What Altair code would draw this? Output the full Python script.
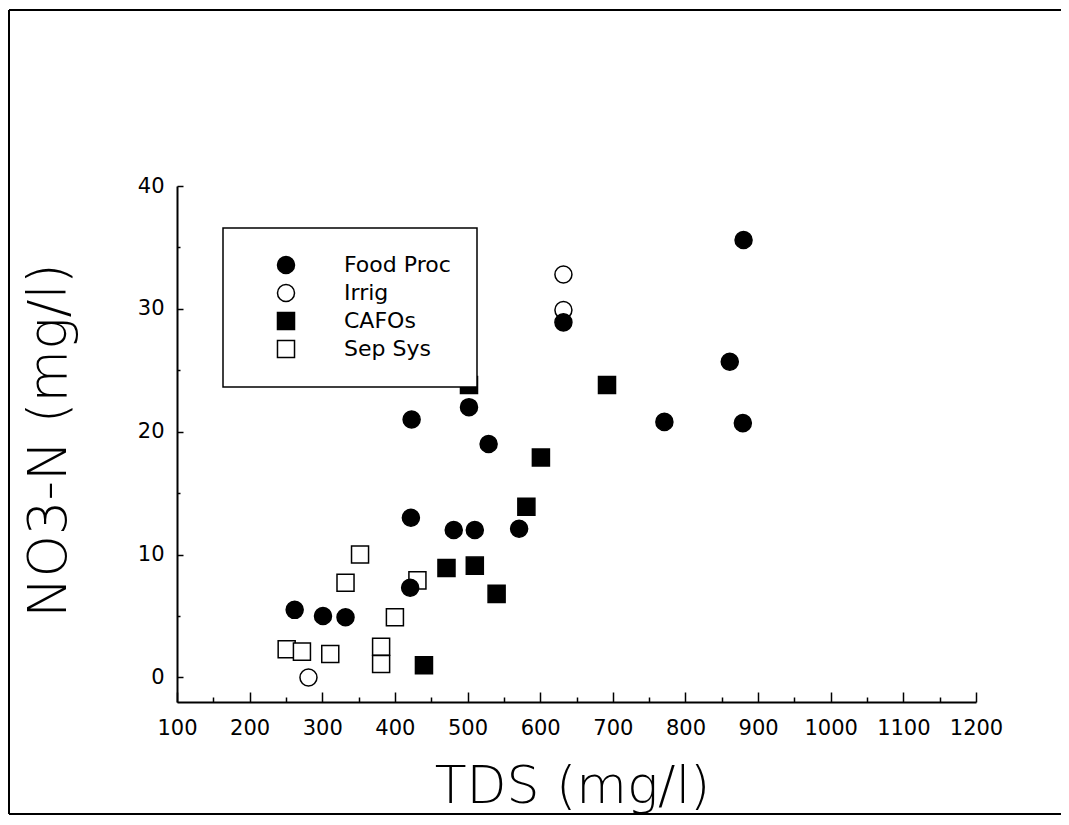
import altair as alt
import pandas as pd

categories = ["Food Proc", "Irrig", "CAFOs", "Sep Sys"]

food_x = [262, 301, 332, 421, 422, 423, 481, 510, 502, 529, 571, 632, 771, 861, 879, 880]
food_y = [5.5, 5.0, 4.9, 7.3, 13.0, 21.0, 12.0, 12.0, 22.0, 19.0, 12.1, 28.9, 20.8, 25.7, 20.7, 35.6]

irrig_x = [281, 632, 632]
irrig_y = [0.0, 29.9, 32.8]

cafo_x = [440, 471, 510, 540, 581, 601, 692, 502]
cafo_y = [1.0, 8.9, 9.1, 6.8, 13.9, 17.9, 23.8, 23.8]

sep_x = [251, 272, 311, 332, 352, 381, 381, 400, 431]
sep_y = [2.3, 2.1, 1.9, 7.7, 10.0, 2.5, 1.1, 4.9, 7.9]

x_major = list(range(100, 1201, 100))
x_minor = list(range(150, 1200, 100))
y_major = [0, 10, 20, 30, 40]
y_minor = [5, 15, 25, 35]

rows = []
for cat, xs, ys in [("Sep Sys", sep_x, sep_y), ("CAFOs", cafo_x, cafo_y),
                    ("Irrig", irrig_x, irrig_y), ("Food Proc", food_x, food_y)]:
    for a, b in zip(xs, ys):
        rows.append({"source": cat, "tds": a, "no3": b})
df = pd.DataFrame(rows)

W, H = 799, 516
FONT = "DejaVu Sans"

xscale = alt.Scale(domain=[100, 1200], nice=False, zero=False)
yscale = alt.Scale(domain=[-2, 40], nice=False, zero=False)

legend = alt.Legend(
    title=None, orient="none", legendX=46, legendY=42,
    fillColor="white", strokeColor="black", padding=26,
    labelFont=FONT, labelFontSize=22, labelColor="black",
    symbolSize=290, symbolStrokeColor="black", symbolStrokeWidth=1.5,
    symbolOffset=26, labelOffset=47, rowPadding=4,
)

points = alt.Chart(df).mark_point(
    filled=True, strokeWidth=1.5, size=290, opacity=1
).encode(
    x=alt.X("tds:Q", scale=xscale, axis=alt.Axis(
        orient="bottom", values=x_major, ticks=False, tickSize=0,
        labelPadding=15, labelFontSize=21, labelFont=FONT, labelColor="black",
        labelFlush=False, labelOverlap=False, format="d",
        domainColor="black", domainWidth=2, grid=False,
        title="TDS (mg/l)", titleFont=FONT, titleFontSize=52, titleFontWeight=200,
        titleColor="black", titleX=395, titleY=100, titleBaseline="alphabetic",
        titleAlign="center")),
    y=alt.Y("no3:Q", scale=yscale, axis=alt.Axis(
        orient="left", values=y_major, ticks=False, tickSize=0,
        labelPadding=13, labelFontSize=21, labelFont=FONT, labelColor="black",
        labelFlush=False, labelOverlap=False, format="d",
        domainColor="black", domainWidth=2, grid=False,
        title="NO3-N (mg/l)", titleFont=FONT, titleFontSize=54, titleFontWeight=200,
        titleColor="black", titleX=-112, titleY=254, titleBaseline="alphabetic",
        titleAlign="center", titleAngle=270)),
    fill=alt.Fill("source:N", scale=alt.Scale(domain=categories,
                  range=["black", "white", "black", "white"]), legend=legend),
    stroke=alt.Stroke("source:N", scale=alt.Scale(domain=categories,
                      range=["black", "black", "black", "black"]), legend=legend),
    shape=alt.Shape("source:N", scale=alt.Scale(domain=categories,
                    range=["circle", "circle", "square", "square"]), legend=legend),
)


def tick_layer(xvals, xsize, yvals, ysize):
    return alt.Chart(df).mark_point(opacity=0, size=1).encode(
        x=alt.X("tds:Q", scale=xscale, axis=alt.Axis(
            orient="top", offset=-H, values=xvals, tickSize=xsize, tickWidth=1.5,
            tickColor="black", labels=False, domain=False, grid=False, title=None)),
        y=alt.Y("no3:Q", scale=yscale, axis=alt.Axis(
            orient="right", offset=-W, values=yvals, tickSize=ysize, tickWidth=1.5,
            tickColor="black", labels=False, domain=False, grid=False, title=None)),
    )


major = tick_layer(x_major, 10, y_major, 6)
minor = tick_layer(x_minor, 5, y_minor, 3)

one = pd.DataFrame({"k": [0]})
frame_top = alt.Chart(one).mark_rule(color="black", strokeWidth=2).encode(
    x=alt.value(-168), x2=alt.value(884), y=alt.value(-176))
frame_left = alt.Chart(one).mark_rule(color="black", strokeWidth=2).encode(
    x=alt.value(-168), y=alt.value(-176), y2=alt.value(628))
frame_bottom = alt.Chart(one).mark_rule(color="black", strokeWidth=2).encode(
    x=alt.value(-168), x2=alt.value(884), y=alt.value(628))

chart = alt.layer(
    major, minor, points, frame_top, frame_left, frame_bottom
).resolve_axis(x="independent", y="independent").properties(
    width=W, height=H,
    autosize=alt.AutoSizeParams(type="none"),
    padding={"left": 169, "top": 178, "right": 85, "bottom": 113},
).configure(background="white").configure_view(stroke=None).configure_legend(strokeWidth=1.5)

chart.save("out.html", embed_options={"renderer": "svg", "actions": False})
